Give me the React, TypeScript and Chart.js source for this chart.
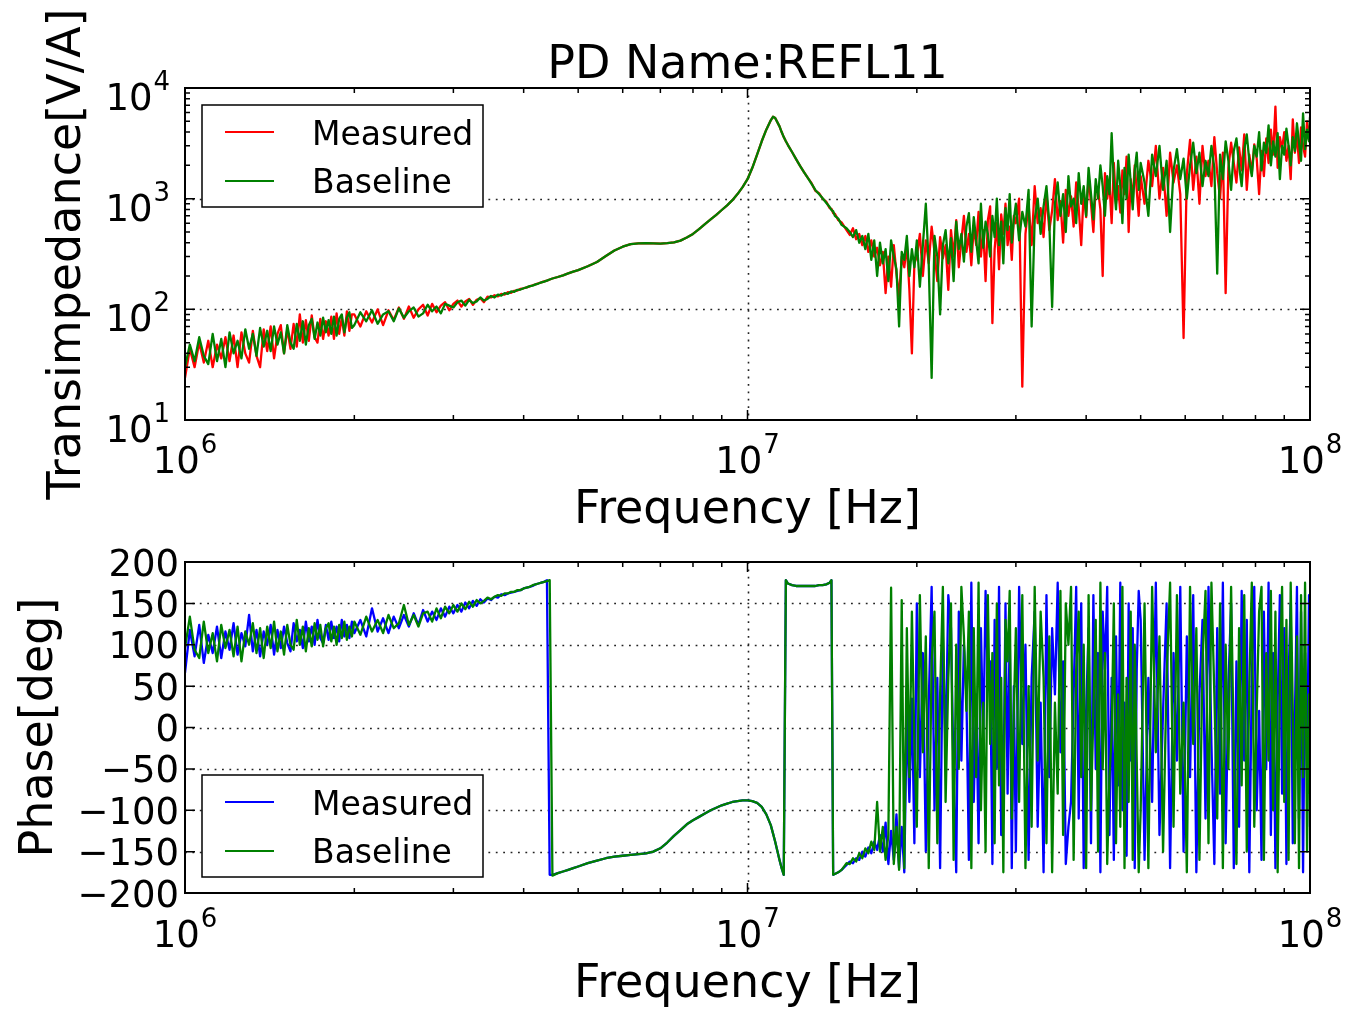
import React, { useEffect, useRef } from "react";
import { Chart, registerables } from "chart.js";

Chart.register(...registerables);

const FONT = '"DejaVu Sans", "Liberation Sans", sans-serif';

// ---------------- data ----------------
const FREQ_MHZ = [
  // 1-2 MHz
  1.00, 1.02, 1.04, 1.06, 1.08, 1.10, 1.12, 1.14, 1.16, 1.18,
  1.20, 1.22, 1.24, 1.26, 1.28, 1.30, 1.32, 1.34, 1.36, 1.38,
  1.40, 1.42, 1.44, 1.46, 1.48, 1.50, 1.52, 1.54, 1.56, 1.58,
  1.60, 1.62, 1.64, 1.66, 1.68, 1.70, 1.72, 1.74, 1.76, 1.78,
  1.80, 1.82, 1.84, 1.86, 1.88, 1.90, 1.92, 1.94, 1.96, 1.98,
  // 2-4.35 MHz
  2.00, 2.05, 2.10, 2.15, 2.20, 2.25, 2.30, 2.35, 2.40, 2.45,
  2.50, 2.55, 2.60, 2.65, 2.70, 2.75, 2.80, 2.85, 2.90, 2.95,
  3.00, 3.05, 3.10, 3.15, 3.20, 3.25, 3.30, 3.35, 3.40, 3.45,
  3.50, 3.55, 3.60, 3.65, 3.70, 3.75, 3.80, 3.85, 3.90, 3.95,
  4.00, 4.05, 4.10, 4.15, 4.20, 4.25, 4.30, 4.35,
  // wrap
  4.40, 4.45, 4.50,
  // 4.6-14.7 MHz
  4.6, 4.7, 4.8, 4.9, 5.0, 5.2, 5.4, 5.6, 5.8, 6.0,
  6.2, 6.4, 6.6, 6.8, 7.0, 7.2, 7.4, 7.6, 7.8, 8.0,
  8.2, 8.4, 8.6, 8.8, 9.0, 9.2, 9.4, 9.6, 9.8, 10.0,
  10.2, 10.4, 10.6, 10.8, 11.0, 11.1, 11.2, 11.4, 11.5, 11.6,
  11.7, 11.8, 12.0, 12.2, 12.4, 12.6, 12.8, 13.0, 13.2, 13.4,
  13.6, 13.8, 14.0, 14.1, 14.2, 14.3, 14.5, 14.7,
  // 15-19.8 MHz
  15.0, 15.2, 15.4, 15.6, 15.8, 16.0, 16.2, 16.4, 16.6, 16.8,
  17.0, 17.2, 17.4, 17.6, 17.8, 18.0, 18.2, 18.4, 18.6, 18.8,
  19.0, 19.2, 19.4, 19.6, 19.8,
  // 20-29.75 MHz
  20.0, 20.25, 20.5, 20.75, 21.0, 21.25, 21.5, 21.75, 22.0, 22.25,
  22.5, 22.75, 23.0, 23.25, 23.5, 23.75, 24.0, 24.25, 24.5, 24.75,
  25.0, 25.25, 25.5, 25.75, 26.0, 26.25, 26.5, 26.75, 27.0, 27.25,
  27.5, 27.75, 28.0, 28.25, 28.5, 28.75, 29.0, 29.25, 29.5, 29.75,
  // 30-49.6 MHz
  30.0, 30.4, 30.8, 31.2, 31.6, 32.0, 32.4, 32.8, 33.2, 33.6,
  34.0, 34.4, 34.8, 35.2, 35.6, 36.0, 36.4, 36.8, 37.2, 37.6,
  38.0, 38.4, 38.8, 39.2, 39.6, 40.0, 40.4, 40.8, 41.2, 41.6,
  42.0, 42.4, 42.8, 43.2, 43.6, 44.0, 44.4, 44.8, 45.2, 45.6,
  46.0, 46.4, 46.8, 47.2, 47.6, 48.0, 48.4, 48.8, 49.2, 49.6,
  // 50-100 MHz
  50.0, 50.8, 51.6, 52.4, 53.2, 54.0, 54.8, 55.6, 56.4, 57.2,
  58.0, 58.8, 59.6, 60.4, 61.2, 62.0, 62.8, 63.6, 64.4, 65.2,
  66.0, 66.8, 67.6, 68.4, 69.2, 70.0, 70.8, 71.6, 72.4, 73.2,
  74.0, 74.8, 75.6, 76.4, 77.2, 78.0, 78.8, 79.6, 80.4, 81.2,
  82.0, 82.8, 83.6, 84.4, 85.2, 86.0, 86.8, 87.6, 88.4, 89.2,
  90.0, 90.8, 91.6, 92.4, 93.2, 94.0, 94.8, 95.6, 96.4, 97.2,
  98.0, 98.8, 99.6, 100.0,
];

const MAG_MEASURED = [
  24, 44, 30, 50, 33, 52, 30, 48, 36, 56,
  34, 58, 30, 62, 40, 33, 64, 38, 30, 66,
  42, 70, 36, 60, 72, 40, 66, 44, 74, 46,
  90, 50, 80, 52, 88, 56, 50, 82, 54, 78,
  58, 86, 54, 92, 60, 84, 58, 96, 64, 90,
  90, 70, 96, 76, 100, 72, 98, 80, 104, 82,
  106, 84, 100, 110, 88, 112, 94, 108, 116, 98,
  112, 120, 106, 118, 124, 110, 122, 126, 116, 130,
  128, 134, 131, 138, 136, 143, 141, 147, 148, 153,
  155, 158, 161, 165, 168, 172, 175, 179,
  182, 186, 190,
  196, 203, 211, 219, 226, 245, 268, 303, 340, 368,
  388, 395, 396, 395, 393, 396, 402, 418, 445, 480,
  530, 590, 650, 715, 790, 870, 970, 1100, 1270, 1500,
  1900, 2500, 3300, 4200, 5100, 5500, 5350, 4500, 4000, 3600,
  3300, 3050, 2640, 2280, 1980, 1740, 1540, 1380, 1180, 1120,
  1000, 940, 820, 810, 740, 730, 640, 610,
  520, 470, 540, 430, 480, 380, 460, 330, 420, 300,
  360, 250, 330, 140, 300, 160, 380, 210, 130, 300,
  240, 380, 150, 40, 260,
  300, 480, 200, 420, 260, 560, 330, 180, 450, 290,
  380, 150, 520, 300, 640, 240, 420, 700, 330, 480,
  250, 560, 380, 760, 300, 520, 180, 640, 850, 75,
  350, 600, 230, 720, 480, 900, 380, 560, 280, 700,
  600, 1000, 20, 480, 900, 380, 1300, 600, 820, 450,
  1100, 520, 780, 1500, 640, 950, 400, 1200, 700, 1050,
  560, 1400, 820, 380, 1150, 680, 1600, 900, 500, 1300,
  1200, 800, 200, 1700, 1000, 1400, 600, 2100, 900, 1300,
  750, 1800, 1100, 2400, 500, 1500, 950, 2000, 1200, 700,
  1600, 900, 2200, 1300, 3000, 1000, 1900, 700, 2600, 1400,
  2000, 1100, 55, 1700, 3400, 1200, 2400, 900, 3000, 1600,
  2200, 1300, 3600, 1700, 1000, 2600, 140, 1900, 3200, 2100,
  1400, 2900, 1800, 3800, 1200, 2500, 1700, 3100, 2300, 1100,
  2700, 1600, 3500, 2100, 4200, 2500, 6800, 1900, 3600, 2800,
  4000, 2200, 3000, 1500, 5200, 2600, 3800, 2100, 4400, 3000,
  2400, 5000, 3400, 4600,
];

const MAG_BASELINE = [
  30, 48, 34, 56, 38, 32, 60, 34, 54, 30,
  62, 40, 52, 36, 66, 44, 60, 38, 68, 46,
  64, 42, 70, 48, 62, 40, 72, 50, 44, 74,
  52, 78, 48, 72, 82, 54, 76, 58, 84, 62,
  80, 60, 86, 58, 82, 90, 62, 84, 94, 68,
  72, 94, 78, 98, 74, 90, 96, 78, 102, 84,
  96, 104, 86, 92, 110, 96, 106, 92, 112, 108,
  104, 116, 120, 108, 122, 114, 118, 128, 120, 124,
  132, 128, 136, 133, 140, 138, 145, 144, 150, 151,
  155, 158, 162, 164, 168, 171, 175, 178,
  182, 186, 190,
  196, 203, 211, 219, 226, 245, 268, 303, 340, 368,
  388, 395, 396, 395, 393, 396, 402, 418, 445, 480,
  530, 590, 650, 715, 790, 870, 970, 1100, 1270, 1500,
  1900, 2500, 3300, 4200, 5100, 5500, 5350, 4500, 4000, 3600,
  3300, 3050, 2640, 2280, 1980, 1740, 1540, 1360, 1200, 1100,
  1010, 920, 840, 790, 770, 700, 660, 580,
  540, 500, 450, 520, 400, 460, 350, 480, 280, 420,
  200, 400, 260, 350, 180, 420, 300, 230, 70, 330,
  280, 460, 200, 350, 240,
  420, 160, 380, 900, 250, 24, 460, 300, 90, 380,
  520, 260, 440, 180, 620, 350, 480, 270, 560, 740,
  330, 680, 420, 260, 900, 360, 620, 480, 300, 700,
  450, 1000, 380, 620, 260, 820, 520, 1100, 400, 650,
  900, 420, 760, 560, 1200, 70, 650, 1000, 480, 850,
  1300, 600, 105, 900, 1400, 700, 1100, 500, 1600, 850,
  1000, 600, 1700, 900, 1300, 700, 1900, 1100, 650, 1500,
  1000, 2000, 1300, 700, 1600, 1100, 3900, 1400, 800, 2200,
  1300, 600, 1900, 1000, 2500, 1400, 800, 1800, 2600, 1200,
  2100, 1400, 700, 2500, 1600, 3000, 1200, 2200, 500, 1800,
  2800, 1500, 2300, 1000, 2000, 3200, 1700, 2600, 1300, 2200,
  1600, 3000, 1900, 210, 2500, 1500, 3300, 2200, 1200, 2700,
  3500, 2000, 1300, 2800, 3800, 2200, 1600, 3000, 2400, 4000,
  1800, 3200, 2600, 4600, 2000, 3300, 2400, 3900, 1500, 3000,
  2500, 4300, 3000, 2000, 3600, 2700, 4800, 3200, 2200, 5900,
  2800, 4200, 3300, 5500,
];

const PHASE_MEASURED = [
  66, 118, 86, 124, 78, 112, 90, 122, 84, 116,
  94, 126, 88, 114, 98, 136, 92, 118, 86, 116,
  100, 124, 88, 118, 96, 122, 102, 92, 126, 104,
  118, 96, 128, 104, 122, 100, 130, 108, 102, 124,
  106, 128, 108, 122, 104, 130, 110, 124, 108, 128,
  114, 130, 110, 144, 116, 132, 114, 134, 120, 136,
  122, 138, 124, 142, 128, 140, 130, 144, 134, 146,
  138, 148, 140, 151, 144, 153, 147, 155, 151, 156,
  154, 158, 157, 161, 160, 162, 163, 164, 165, 166,
  168, 169, 170, 171, 173, 174, 175, 176,
  178, -178, -178,
  -176, -174, -172, -170, -168, -164, -161, -158, -156, -155,
  -154, -153, -152, -150, -146, -139, -131, -124, -117, -112,
  -108, -104, -100, -97, -94, -92, -90, -89, -88, -88,
  -89, -91, -96, -105, -118, -128, -138, -160, -170, -178,
  178, 174, 172, 171, 171, 171, 171, 171, 171, 172,
  172, 173, 175, 178, -178, -177, -175, -172,
  -166, -162, -164, -158, -160, -150, -156, -145, -152, -138,
  -148, -130, -150, -115, -165, -125, -160, -105, -170, -120,
  -175, 20, -90, 35, -140,
  150, -60, 90, -150, 30, 170, -100, 60, -170, 110,
  -30, 160, 120, -60, -175, 140, -40, 100, 40, -160,
  175, -90, 40, -140, 120, -20, 165, 60, 80, -165,
  130, -50, 170, -130, -90, 150, -80, 120, -170, 50,
  -150, 170, -20, 100, -160, 60, 140, -120, 30, -175,
  160, -60, 120, 40, 175, -30, 80, -165, -120, -90,
  40, 170, -110, 150, -170, 20, 120, -140, 160, -50,
  90, -175, 140, 70, 170, -130, 60, -160, 110, -70,
  175, -100, 30, -155, 150, -40, 120, -170, 70, 165,
  130, -160, 60, -90, 175, -130, 20, 150, -170, 90,
  -40, 170, -150, 110, -60, 160, -175, 40, 130, -110,
  170, -20, -165, 120, -80, 175, -140, 50, 150, -170,
  80, -120, 165, -40, 130, -175, 60, 170, -100, 20,
  -160, 140, -50, 175, -130, 90, -170, 30, 160, -80,
  120, -165, 60, 150, -140, 10, 170, -110, 140, -175,
  90, -60, 160, -120,
];

const PHASE_BASELINE = [
  96, 134, 94, 84, 128, 90, 114, 80, 124, 96,
  118, 86, 122, 80, 116, 100, 126, 90, 120, 84,
  122, 96, 128, 92, 116, 88, 124, 100, 94, 130,
  100, 122, 92, 120, 98, 126, 106, 124, 98, 120,
  126, 104, 122, 100, 124, 108, 128, 106, 122, 110,
  128, 112, 134, 116, 130, 114, 136, 120, 126, 148,
  124, 136, 122, 138, 140, 128, 144, 132, 146, 138,
  148, 140, 150, 143, 152, 146, 154, 150, 153, 157,
  155, 158, 160, 159, 162, 162, 164, 164, 166, 166,
  168, 169, 170, 172, 173, 174, 175, 176,
  177, 178, -179,
  -176, -174, -172, -170, -168, -164, -161, -158, -156, -155,
  -154, -153, -152, -150, -146, -139, -131, -124, -117, -112,
  -108, -104, -100, -97, -94, -92, -90, -89, -88, -88,
  -89, -91, -96, -105, -118, -128, -138, -160, -170, -178,
  178, 174, 172, 171, 171, 171, 171, 171, 171, 172,
  172, 173, 175, 178, -178, -177, -175, -172,
  -164, -165, -158, -162, -152, -158, -146, -152, -138, -148,
  -90, -150, -120, -160, -130, 169, -165, -120, -172, 154,
  -170, 120, -60, 140, -20,
  -120, 160, -30, 110, -170, 80, 140, -140, 40, 170,
  -90, 60, 150, -160, 100, -50, 170, 110, 20, 140,
  -170, 120, -60, 175, -100, 30, -150, 160, -20, 90,
  -140, 150, -70, 60, -175, 130, 80, 165, -110, 20,
  120, -90, 160, -170, 50, -120, 170, -40, 140, 60,
  -140, 110, -175, 30, -80, 165, -130, 150, 100, 170,
  -160, 70, 140, -60, 100, -170, 160, -100, 20, 130,
  -150, 175, -50, 90, -165, -60, -10, 150, -140, 40,
  -120, 170, -170, 60, -90, 140, -160, 100, -40, -175,
  -100, 150, -170, 170, -30, 110, -150, 60, 175, -120,
  160, -80, 30, -175, 170, -20, 120, -160, 80, 165,
  -140, 175, 40, -110, 150, -170, 100, -50, 170, -30,
  -165, 120, -70, 160, -150, 50, 175, -120, 20, 140,
  170, -160, 90, -40, 165, -100, 140, -175, 60, 170,
  -90, 130, -160, 175, 20, -140, 110, -170, 160, -60,
  175, -150, 40, -80,
];

const X_DECADES = [6, 7, 8];
const MAG_DECADES = [1, 2, 3, 4];
const PHASE_TICKS = [-200, -150, -100, -50, 0, 50, 100, 150, 200];
const SERIES_LABELS = ["Measured", "Baseline"];
const TITLE = "PD Name:REFL11";
const X_TITLE = "Frequency [Hz]";
const MAG_TITLE = "Transimpedance[V/A]";
const PHASE_TITLE = "Phase[deg]";

// ---------------- helpers ----------------
type Tick = { v: number; major: boolean };

function logTicks(decades: number[]): Tick[] {
  const out: Tick[] = [];
  for (let i = 0; i < decades.length; i++) {
    const base = Math.pow(10, decades[i]);
    out.push({ v: base, major: true });
    if (i < decades.length - 1) {
      for (let m = 2; m <= 9; m++) out.push({ v: m * base, major: false });
    }
  }
  return out;
}

function toPoints(values: number[]) {
  return values.map((y, i) => ({ x: FREQ_MHZ[i] * 1e6, y }));
}

const TICK_FONT = 37;
const EXP_FONT = 26;

function drawPow(ctx: CanvasRenderingContext2D, exp: number, x: number, baseline: number, align: "center" | "right") {
  ctx.font = `${TICK_FONT}px ${FONT}`;
  const w1 = ctx.measureText("10").width;
  ctx.font = `${EXP_FONT}px ${FONT}`;
  const w2 = ctx.measureText(String(exp)).width;
  const total = w1 + 1 + w2;
  const start = align === "center" ? x - total / 2 : x - total;
  ctx.textAlign = "left";
  ctx.textBaseline = "alphabetic";
  ctx.fillStyle = "#000";
  ctx.font = `${TICK_FONT}px ${FONT}`;
  ctx.fillText("10", start, baseline);
  ctx.font = `${EXP_FONT}px ${FONT}`;
  ctx.fillText(String(exp), start + w1 + 1, baseline - 20);
}

function drawGrid(chart: any, xVals: number[], yVals: number[]) {
  const ctx: CanvasRenderingContext2D = chart.ctx;
  const { left, right, top, bottom } = chart.chartArea;
  const xs = chart.scales.x;
  const ys = chart.scales.y;
  ctx.save();
  ctx.strokeStyle = "#222";
  ctx.lineWidth = 1.6;
  ctx.setLineDash([1.8, 5.6]);
  ctx.beginPath();
  xVals.forEach((v) => {
    const px = Math.round(xs.getPixelForValue(v)) + 0.5;
    ctx.moveTo(px, top);
    ctx.lineTo(px, bottom);
  });
  yVals.forEach((v) => {
    const py = Math.round(ys.getPixelForValue(v)) + 0.5;
    ctx.moveTo(left, py);
    ctx.lineTo(right, py);
  });
  ctx.stroke();
  ctx.restore();
}

function drawFrameTicks(chart: any, xTicks: Tick[], yTicks: Tick[]) {
  const ctx: CanvasRenderingContext2D = chart.ctx;
  const { left, right, top, bottom } = chart.chartArea;
  const xs = chart.scales.x;
  const ys = chart.scales.y;
  ctx.save();
  ctx.strokeStyle = "#000";
  ctx.lineWidth = 1.5;
  ctx.beginPath();
  xTicks.forEach((t) => {
    const px = xs.getPixelForValue(t.v);
    const len = t.major ? 10 : 5;
    ctx.moveTo(px, bottom);
    ctx.lineTo(px, bottom - len);
    ctx.moveTo(px, top);
    ctx.lineTo(px, top + len);
  });
  yTicks.forEach((t) => {
    const py = ys.getPixelForValue(t.v);
    const len = t.major ? 10 : 5;
    ctx.moveTo(left, py);
    ctx.lineTo(left + len, py);
    ctx.moveTo(right, py);
    ctx.lineTo(right - len, py);
  });
  ctx.stroke();
  ctx.lineWidth = 2;
  ctx.strokeRect(left, top, right - left, bottom - top);
  ctx.restore();
}

function drawLegend(chart: any, x: number, y: number) {
  const ctx: CanvasRenderingContext2D = chart.ctx;
  const ds = chart.data.datasets;
  ctx.save();
  ctx.fillStyle = "#fff";
  ctx.fillRect(x, y, 281, 102);
  ctx.strokeStyle = "#000";
  ctx.lineWidth = 1.5;
  ctx.strokeRect(x, y, 281, 102);
  ds.forEach((d: any, i: number) => {
    const ly = y + 27 + i * 49;
    ctx.strokeStyle = d.borderColor;
    ctx.lineWidth = 2;
    ctx.beginPath();
    ctx.moveTo(x + 23, ly);
    ctx.lineTo(x + 72, ly);
    ctx.stroke();
    ctx.fillStyle = "#000";
    ctx.font = `33px ${FONT}`;
    ctx.textAlign = "left";
    ctx.textBaseline = "alphabetic";
    ctx.fillText(d.label, x + 110, y + 39.5 + i * 48.5);
  });
  ctx.restore();
}

function drawXLabels(chart: any, tickBaseline: number, titleBaseline: number) {
  const ctx: CanvasRenderingContext2D = chart.ctx;
  const xs = chart.scales.x;
  const { left, right } = chart.chartArea;
  ctx.save();
  X_DECADES.forEach((e) => drawPow(ctx, e, xs.getPixelForValue(Math.pow(10, e)), tickBaseline, "center"));
  ctx.fillStyle = "#000";
  ctx.font = `46px ${FONT}`;
  ctx.textAlign = "center";
  ctx.textBaseline = "alphabetic";
  ctx.fillText(X_TITLE, (left + right) / 2, titleBaseline);
  ctx.restore();
}

function drawYTitle(chart: any, text: string, baselineX: number) {
  const ctx: CanvasRenderingContext2D = chart.ctx;
  const { top, bottom } = chart.chartArea;
  ctx.save();
  ctx.translate(baselineX, (top + bottom) / 2);
  ctx.rotate(-Math.PI / 2);
  ctx.fillStyle = "#000";
  ctx.font = `46px ${FONT}`;
  ctx.textAlign = "center";
  ctx.textBaseline = "alphabetic";
  ctx.fillText(text, 0, 0);
  ctx.restore();
}

const xTickList = logTicks(X_DECADES);
const magTickList = logTicks(MAG_DECADES);
const phaseTickList: Tick[] = PHASE_TICKS.map((v) => ({ v, major: true }));

const magDecor = {
  id: "magDecor",
  beforeDatasetsDraw(chart: any) {
    drawGrid(chart, [1e7], [1e2, 1e3]);
  },
  afterDatasetsDraw(chart: any) {
    const ctx: CanvasRenderingContext2D = chart.ctx;
    const ys = chart.scales.y;
    const { left, right } = chart.chartArea;
    drawFrameTicks(chart, xTickList, magTickList);
    drawLegend(chart, 202, 105);
    ctx.save();
    MAG_DECADES.forEach((e) => drawPow(ctx, e, 170, ys.getPixelForValue(Math.pow(10, e)) + 22, "right"));
    ctx.fillStyle = "#000";
    ctx.font = `46px ${FONT}`;
    ctx.textAlign = "center";
    ctx.textBaseline = "alphabetic";
    ctx.fillText(TITLE, (left + right) / 2, 78);
    ctx.restore();
    drawXLabels(chart, 473, 523);
    drawYTitle(chart, MAG_TITLE, 80);
  },
};

const phaseDecor = {
  id: "phaseDecor",
  beforeDatasetsDraw(chart: any) {
    drawGrid(chart, [1e7], [-150, -100, -50, 0, 50, 100, 150]);
  },
  afterDatasetsDraw(chart: any) {
    const ctx: CanvasRenderingContext2D = chart.ctx;
    const ys = chart.scales.y;
    drawFrameTicks(chart, xTickList, phaseTickList);
    drawLegend(chart, 202, 775);
    ctx.save();
    ctx.fillStyle = "#000";
    ctx.font = `${TICK_FONT}px ${FONT}`;
    ctx.textAlign = "right";
    ctx.textBaseline = "alphabetic";
    PHASE_TICKS.forEach((v) => {
      const txt = v < 0 ? "\u2212" + Math.abs(v) : String(v);
      ctx.fillText(txt, 179, ys.getPixelForValue(v) + 13.5);
    });
    ctx.restore();
    drawXLabels(chart, 947, 997);
    drawYTitle(chart, PHASE_TITLE, 52);
  },
};

function hiddenScale(extra: any, isX: boolean) {
  return {
    display: true,
    ...extra,
    ticks: { display: false },
    grid: { display: false, drawTicks: false },
    border: { display: false },
    title: { display: false },
    afterFit: (s: any) => {
      if (isX) s.height = 0;
      else s.width = 0;
    },
  };
}

function lineDataset(label: string, values: number[], color: string, order: number) {
  return {
    label,
    data: toPoints(values),
    borderColor: color,
    backgroundColor: color,
    borderWidth: 2.3,
    pointRadius: 0,
    fill: false,
    tension: 0,
    borderJoinStyle: "round",
    order,
  };
}

function makeConfig(kind: "mag" | "phase"): any {
  const isMag = kind === "mag";
  const padding = isMag
    ? { left: 185, top: 88, right: 49, bottom: 589 }
    : { left: 185, top: 562, right: 49, bottom: 116 };
  return {
    type: "line",
    data: {
      datasets: isMag
        ? [
            lineDataset(SERIES_LABELS[0], MAG_MEASURED, "#ff0000", 1),
            lineDataset(SERIES_LABELS[1], MAG_BASELINE, "#008000", 0),
          ]
        : [
            lineDataset(SERIES_LABELS[0], PHASE_MEASURED, "#0000ff", 1),
            lineDataset(SERIES_LABELS[1], PHASE_BASELINE, "#008000", 0),
          ],
    },
    options: {
      responsive: false,
      maintainAspectRatio: false,
      animation: false,
      devicePixelRatio: 1,
      events: [],
      layout: { padding },
      plugins: {
        legend: { display: false },
        tooltip: { enabled: false },
        title: { display: false },
      },
      scales: {
        x: hiddenScale({ type: "logarithmic", min: 1e6, max: 1e8 }, true),
        y: isMag
          ? hiddenScale({ type: "logarithmic", min: 10, max: 1e4 }, false)
          : hiddenScale({ type: "linear", min: -200, max: 200 }, false),
      },
    },
    plugins: [isMag ? magDecor : phaseDecor],
  };
}

export default function App() {
  const magRef = useRef<HTMLCanvasElement | null>(null);
  const phaseRef = useRef<HTMLCanvasElement | null>(null);

  useEffect(() => {
    const charts: Chart[] = [];
    if (magRef.current) charts.push(new Chart(magRef.current, makeConfig("mag")));
    if (phaseRef.current) charts.push(new Chart(phaseRef.current, makeConfig("phase")));
    return () => charts.forEach((c) => c.destroy());
  }, []);

  const canvasStyle: React.CSSProperties = { position: "absolute", left: 0, top: 0 };
  return (
    <div style={{ position: "absolute", left: 0, top: 0, width: 1359, height: 1009, background: "#fff", overflow: "hidden" }}>
      <canvas ref={phaseRef} width={1359} height={1009} style={canvasStyle} />
      <canvas ref={magRef} width={1359} height={1009} style={canvasStyle} />
    </div>
  );
}
